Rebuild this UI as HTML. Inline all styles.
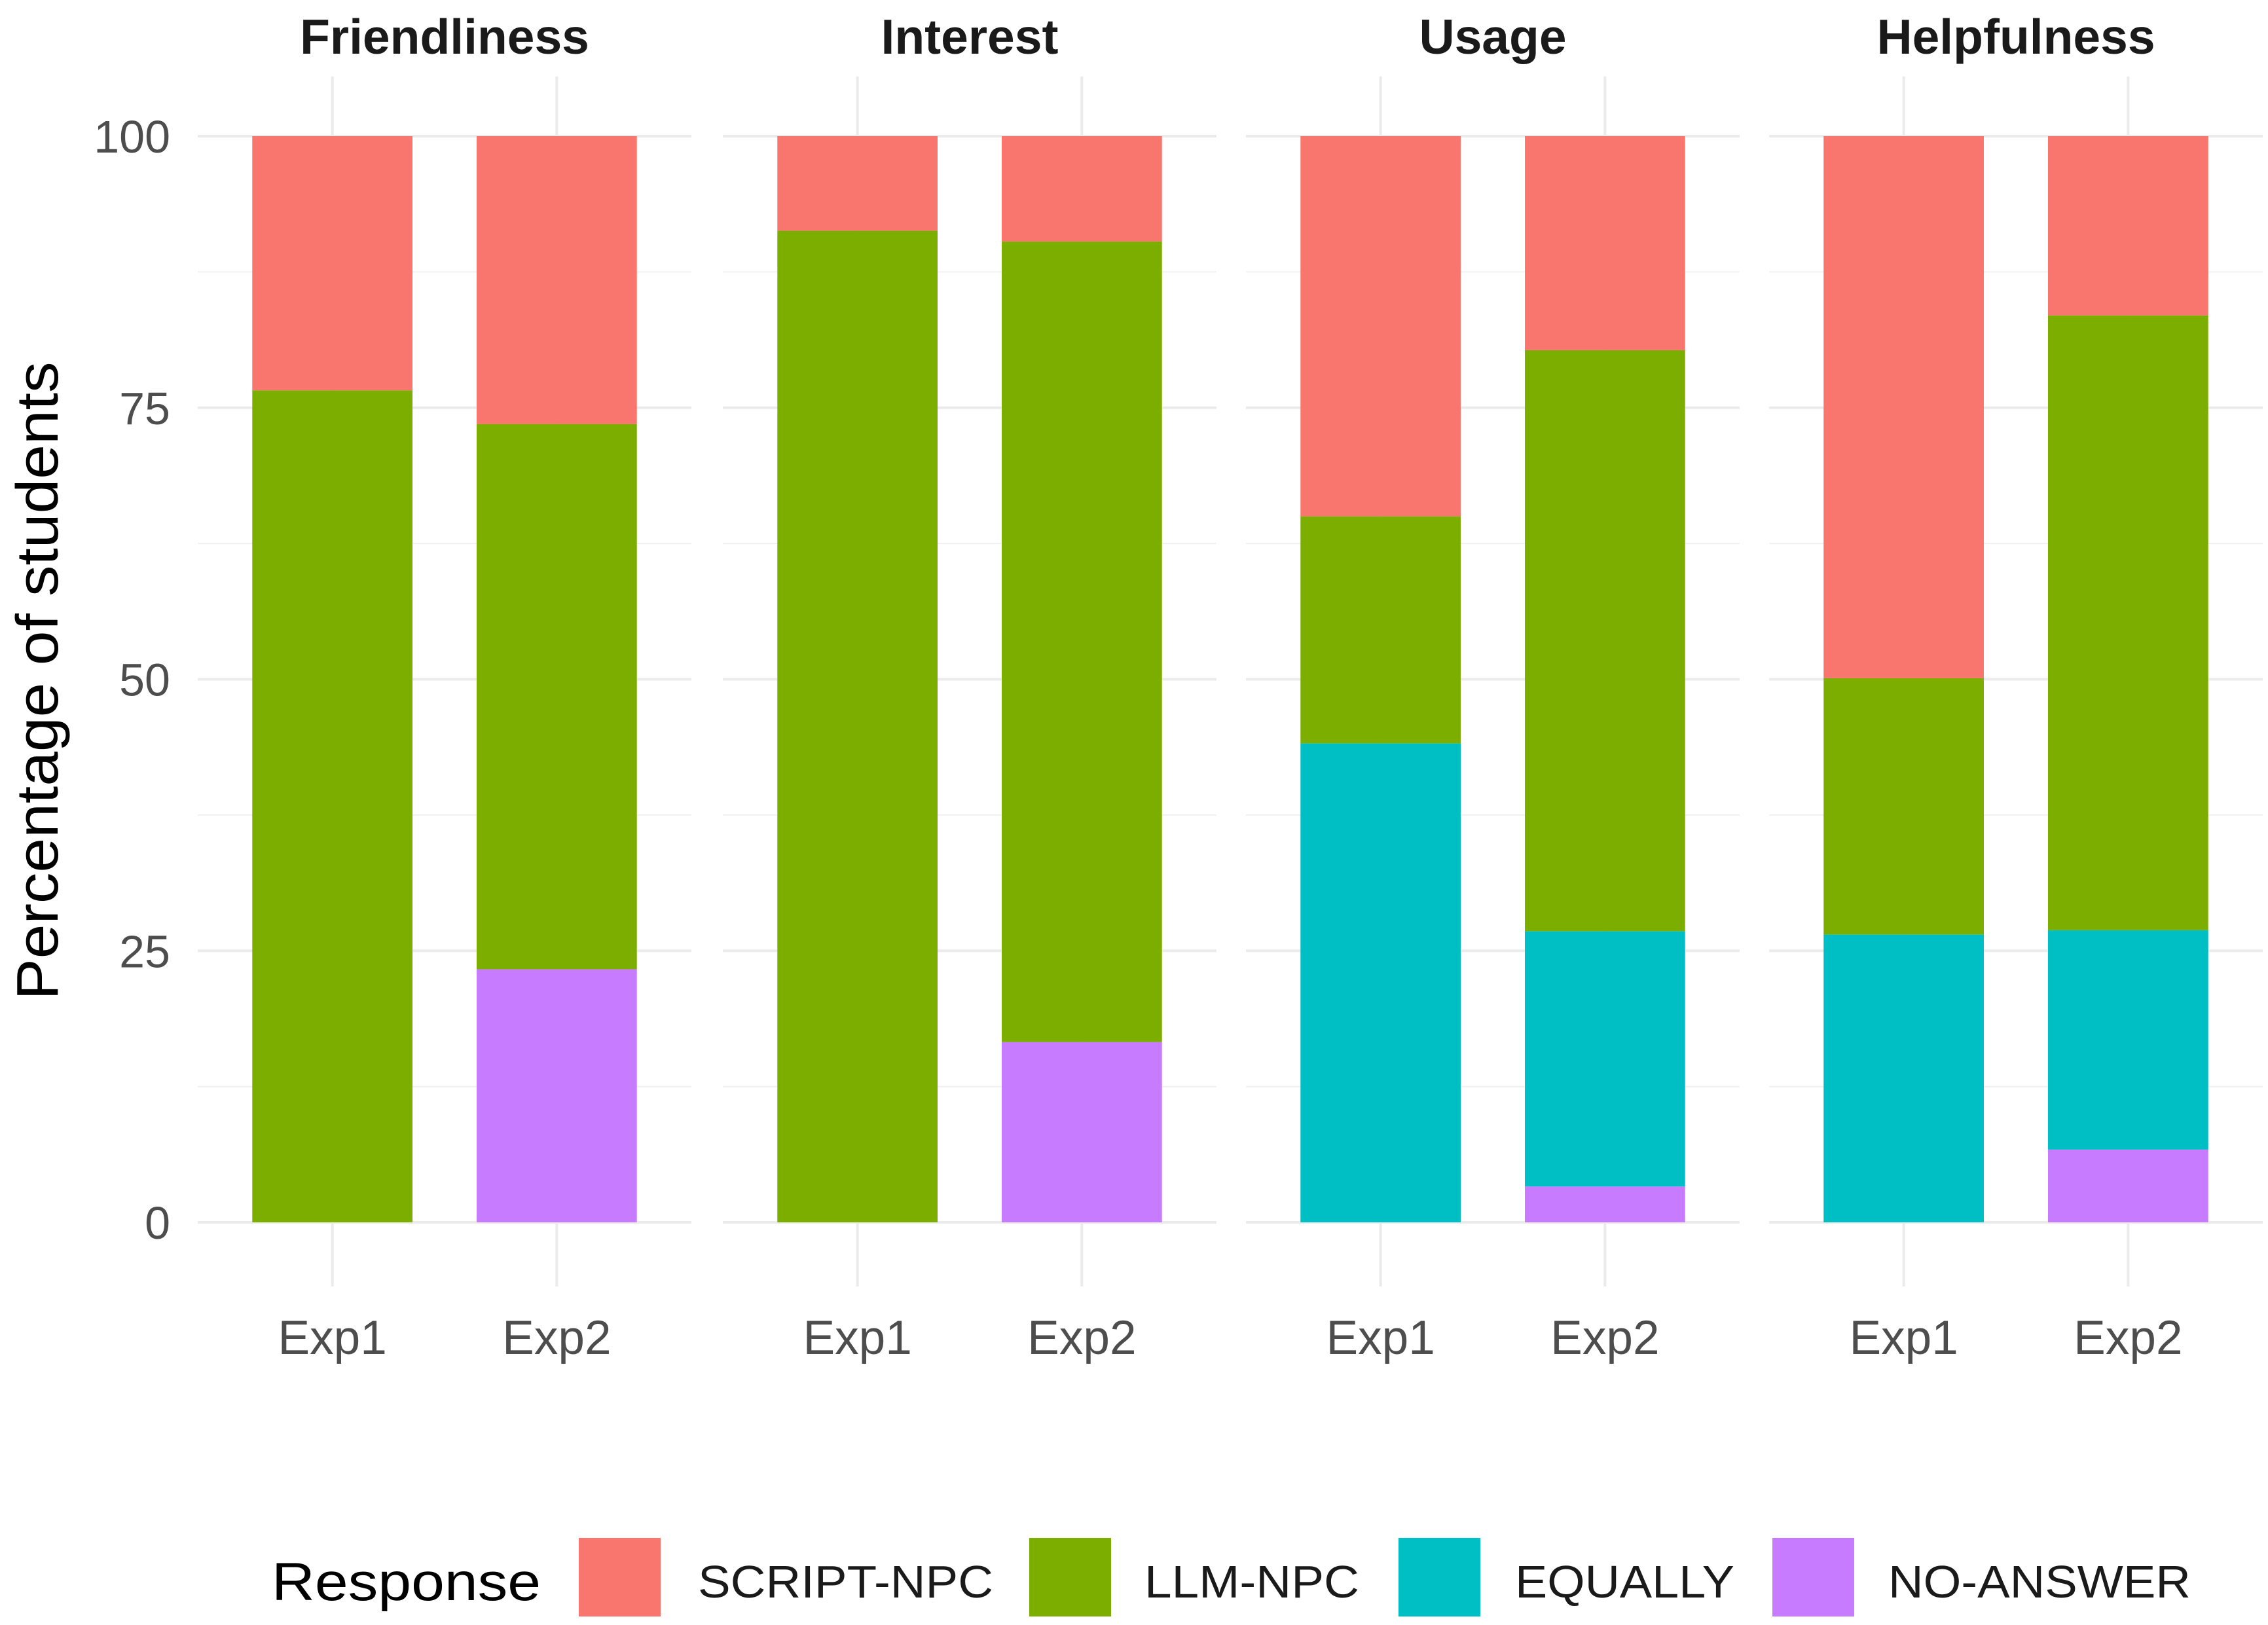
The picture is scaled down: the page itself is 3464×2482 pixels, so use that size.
<!DOCTYPE html>
<html><head><meta charset="utf-8"><style>
html,body{margin:0;padding:0;background:#fff;}
svg{display:block;font-family:"Liberation Sans",sans-serif;}
</style></head>
<body>
<svg id="chart" width="3464" height="2482" viewBox="0 0 3464 2482" xmlns="http://www.w3.org/2000/svg">
<rect x="0" y="0" width="3464" height="2482" fill="#fff"/>
<text x="0" y="0" transform="translate(88,1040) rotate(-90)" text-anchor="middle" font-size="90" fill="#000" textLength="975" lengthAdjust="spacingAndGlyphs">Percentage of students</text>
<g id="panels"></g>
<g id="legend">
<text x="415" y="2444" font-size="82" fill="#000" textLength="411" lengthAdjust="spacingAndGlyphs">Response</text>
</g>
</svg>
<script>
const facets = ["Friendliness","Interest","Usage","Helpfulness"];
const groups = ["Exp1","Exp2"];
const responses = ["SCRIPT-NPC","LLM-NPC","EQUALLY","NO-ANSWER"];
const colors = ["#F8766D","#7CAE00","#00BFC4","#C77CFF"];
// values per facet, per group
const noAnswer = [[0,23.3],[0,16.6],[0,3.3],[0,6.7]];
const equally  = [[0,0],[0,0],[44.1,23.5],[26.5,20.2]];
const llmNpc   = [[76.6,50.2],[91.3,73.7],[20.9,53.5],[23.6,56.6]];
const scriptNpc= [[23.4,26.5],[8.7,9.7],[35.0,19.7],[49.9,16.5]];
const yTicks = [0,25,50,75,100];
const yMinor = [12.5,37.5,62.5,87.5];

const svg = document.getElementById('chart');
const panels = document.getElementById('panels');
const NS = "http://www.w3.org/2000/svg";
const panelX = [302,1104,1903,2702];
const panelW = 754;
const y0px = 1867, y100px = 208;
function yScale(v){ return y0px + (y100px - y0px) * v / 100; }
function xScale(p, gi){ return panelX[p] + panelW * (0.6 + gi) / 2.2; }
const barW = panelW * 0.7 / 2.2 * 1.02;
function mk(tag, attrs, parent){
  const el = document.createElementNS(NS, tag);
  for (const k in attrs) el.setAttribute(k, attrs[k]);
  parent.appendChild(el);
  return el;
}
const gridTop = yScale(105.5), gridBottom = yScale(-5.9);
facets.forEach((f, p) => {
  const g = mk('g', {}, panels);
  
  
  yMinor.forEach(v => {
    const l = mk('line', {x1: panelX[p], x2: panelX[p] + panelW, y1: yScale(v), y2: yScale(v), stroke: '#f0f0f0', 'stroke-width': 2}, g);
    
    
  });
  yTicks.forEach(v => {
    const l = mk('line', {x1: panelX[p], x2: panelX[p] + panelW, y1: yScale(v), y2: yScale(v), stroke: '#ebebeb', 'stroke-width': 4}, g);
    
    
  });
  groups.forEach((gr, gi) => {
    const cx = xScale(p, gi);
    const l = mk('line', {x1: cx, x2: cx, y1: gridTop, y2: gridBottom, stroke: '#ebebeb', 'stroke-width': 4}, g);
    
    
  });
  groups.forEach((gr, gi) => {
    const cx = xScale(p, gi);
    const stack = [noAnswer[p][gi], equally[p][gi], llmNpc[p][gi], scriptNpc[p][gi]];
    const cidx = [3, 2, 1, 0];
    let acc = 0;
    stack.forEach((v, si) => {
      if (v <= 0) return;
      const yT = yScale(acc + v), yB = yScale(acc);
      const r = mk('rect', {x: cx - barW / 2, y: yT, width: barW, height: yB - yT, fill: colors[cidx[si]]}, g);
      
      
      acc += v;
    });
    const t = mk('text', {x: cx, y: 2068, 'text-anchor': 'middle', 'font-size': 73, fill: '#4d4d4d'}, g);
    t.textContent = gr;
    
    
  });
  const s = mk('text', {x: panelX[p] + panelW / 2, y: 82, 'text-anchor': 'middle', 'font-size': 75, 'font-weight': 'bold', fill: '#1a1a1a'}, g);
  s.textContent = f;
  
  
});
yTicks.forEach(v => {
  const t = mk('text', {x: 260, y: yScale(v) + 25, 'text-anchor': 'end', 'font-size': 70, fill: '#4d4d4d'}, svg);
  t.textContent = String(v);
  
  
});
const legend = document.getElementById('legend');
const keyX = [884, 1572, 2136, 2707];
const labX = [1066, 1748, 2314, 2884];
const labW = [451, 328, 335, 462];
responses.forEach((r, i) => {
  const k = mk('rect', {x: keyX[i], y: 2349, width: 125, height: 120, fill: colors[i]}, legend);
  
  
  const t = mk('text', {x: labX[i], y: 2440, 'font-size': 70, fill: '#1a1a1a', textLength: labW[i], lengthAdjust: 'spacingAndGlyphs'}, legend);
  t.textContent = r;
  
  
});
</script>
</body></html>
